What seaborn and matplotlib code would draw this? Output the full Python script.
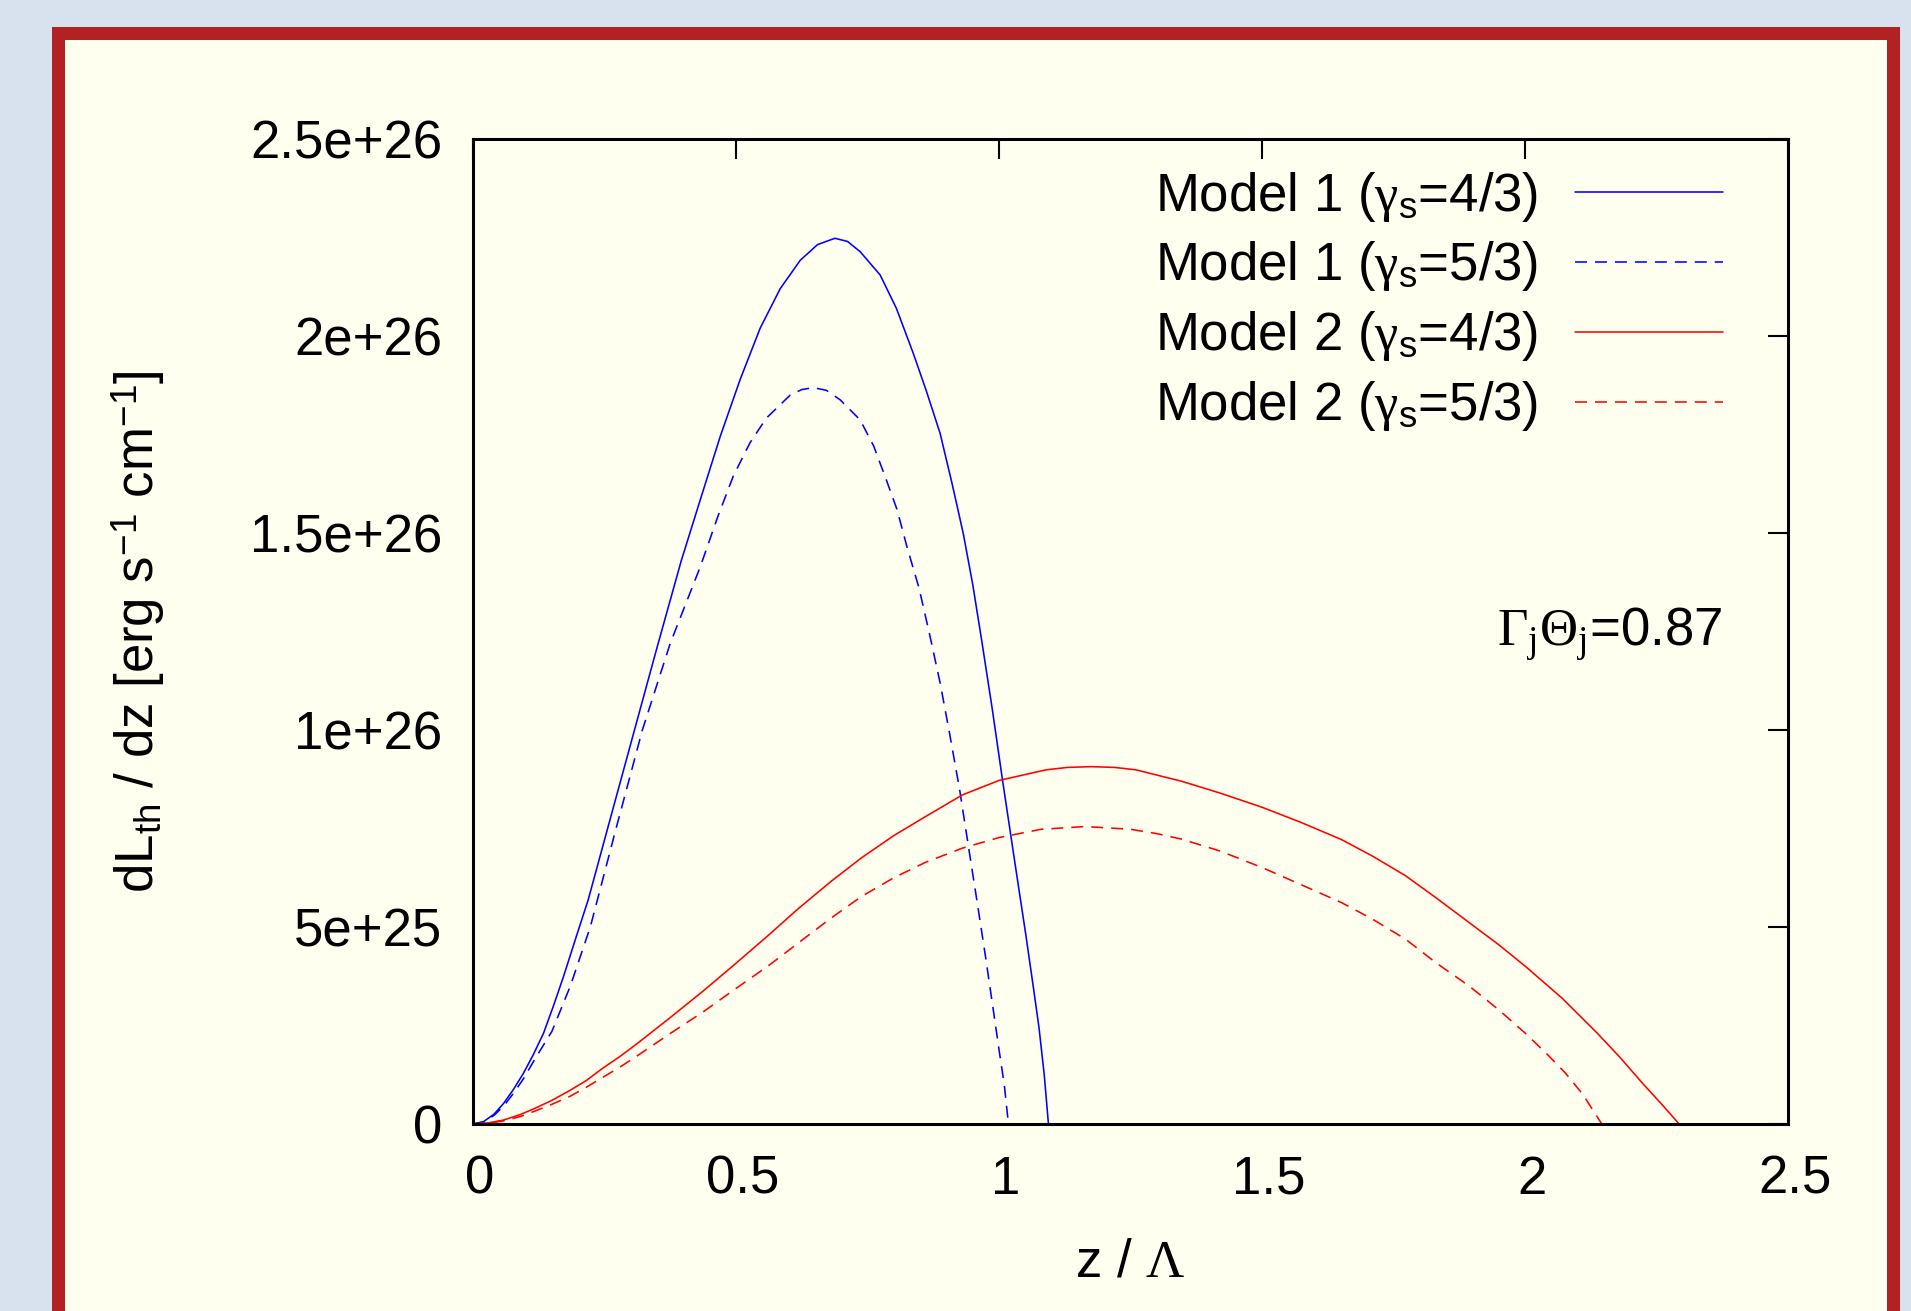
import matplotlib
matplotlib.use("Agg")
import matplotlib.pyplot as plt
from matplotlib.patches import Rectangle
from matplotlib.transforms import ScaledTranslation
import seaborn as sns
import pandas as pd

# ---- curves: dL_th/dz in units of 1e26 erg s^-1 cm^-1 versus z / Lambda ----
z_m1_43 = [0, 0.02, 0.04, 0.058, 0.077, 0.096, 0.115, 0.134, 0.153, 0.172, 0.195,
           0.219, 0.26, 0.307, 0.35, 0.396, 0.432, 0.47, 0.508, 0.546, 0.584, 0.622,
           0.655, 0.688, 0.712, 0.736, 0.774, 0.805, 0.837, 0.862, 0.888, 0.91,
           0.932, 0.95, 0.967, 0.987, 1.006, 1.03, 1.051, 1.065, 1.076, 1.086, 1.094]
L_m1_43 = [0, 0.006, 0.025, 0.052, 0.088, 0.129, 0.177, 0.230, 0.300, 0.374, 0.470,
           0.569, 0.770, 1.0, 1.21, 1.43, 1.584, 1.745, 1.890, 2.020, 2.120, 2.192,
           2.232, 2.248, 2.240, 2.214, 2.155, 2.070, 1.956, 1.860, 1.753, 1.630,
           1.499, 1.370, 1.228, 1.055, 0.879, 0.665, 0.480, 0.350, 0.245, 0.125, 0]

z_m1_53 = [0, 0.02, 0.04, 0.058, 0.077, 0.096, 0.12, 0.150, 0.185, 0.223, 0.27,
           0.322, 0.375, 0.432, 0.465, 0.495, 0.527, 0.558, 0.603, 0.625, 0.647,
           0.672, 0.698, 0.736, 0.762, 0.786, 0.806, 0.825, 0.848, 0.869, 0.888,
           0.905, 0.925, 0.943, 0.96, 0.975, 0.988, 1.0, 1.01, 1.018]
L_m1_53 = [0, 0.005, 0.022, 0.045, 0.078, 0.115, 0.170, 0.235, 0.350, 0.5, 0.74,
           1.0, 1.22, 1.414, 1.54, 1.645, 1.73, 1.792, 1.850, 1.864, 1.869,
           1.862, 1.838, 1.787, 1.72, 1.634, 1.56, 1.465, 1.36, 1.237, 1.12,
           0.999, 0.85, 0.695, 0.55, 0.419, 0.30, 0.189, 0.10, 0]

z_m2_43 = [0, 0.03, 0.058, 0.09, 0.118, 0.15, 0.184, 0.215, 0.245, 0.28, 0.311,
           0.373, 0.438, 0.5, 0.565, 0.617, 0.68, 0.738, 0.8, 0.86, 0.93, 1.0,
           1.09, 1.13, 1.176, 1.22, 1.26, 1.347, 1.42, 1.5, 1.575, 1.651, 1.71,
           1.773, 1.83, 1.894, 1.95, 2.0, 2.07, 2.137, 2.18, 2.223, 2.26, 2.293]
L_m2_43 = [0, 0.003, 0.010, 0.024, 0.040, 0.060, 0.085, 0.110, 0.140, 0.172, 0.203,
           0.268, 0.338, 0.408, 0.483, 0.545, 0.615, 0.675, 0.732, 0.780, 0.835,
           0.872, 0.899, 0.905, 0.907, 0.905, 0.899, 0.870, 0.840, 0.804, 0.765,
           0.722, 0.680, 0.630, 0.575, 0.511, 0.455, 0.401, 0.320, 0.231, 0.170,
           0.104, 0.050, 0]

z_m2_53 = [0, 0.03, 0.058, 0.09, 0.118, 0.15, 0.184, 0.215, 0.245, 0.28, 0.311,
           0.373, 0.438, 0.5, 0.565, 0.617, 0.68, 0.738, 0.8, 0.86, 0.93, 1.0,
           1.08, 1.164, 1.25, 1.3, 1.347, 1.42, 1.5, 1.575, 1.651, 1.71, 1.773,
           1.83, 1.894, 1.95, 2.0, 2.04, 2.077, 2.11, 2.146]
L_m2_53 = [0, 0.002, 0.008, 0.019, 0.033, 0.050, 0.070, 0.093, 0.117, 0.145, 0.172,
           0.228, 0.285, 0.344, 0.405, 0.458, 0.522, 0.577, 0.625, 0.664, 0.700,
           0.727, 0.748, 0.755, 0.748, 0.737, 0.723, 0.693, 0.651, 0.607, 0.562,
           0.520, 0.469, 0.410, 0.350, 0.290, 0.231, 0.180, 0.129, 0.075, 0]

series_labels = [r"Model 1 ($\gamma_{\mathrm{s}}$=4/3)",
                 r"Model 1 ($\gamma_{\mathrm{s}}$=5/3)",
                 r"Model 2 ($\gamma_{\mathrm{s}}$=4/3)",
                 r"Model 2 ($\gamma_{\mathrm{s}}$=5/3)"]
series_colors = ["#0000ff", "#0000ff", "#ff0000", "#ff0000"]
series_dashed = [False, True, False, True]

xticks = [0, 0.5, 1, 1.5, 2, 2.5]
xtick_labels = ["0", "0.5", "1", "1.5", "2", "2.5"]
yticks = [0, 5e25, 1e26, 1.5e26, 2e26, 2.5e26]
ytick_labels = ["0", "5e+25", "1e+26", "1.5e+26", "2e+26", "2.5e+26"]

# ---- style ----
sns.set_theme(style="white")
plt.rcParams["font.family"] = ["Liberation Sans", "DejaVu Sans"]
plt.rcParams["text.color"] = "black"
plt.rcParams["axes.labelcolor"] = "black"
plt.rcParams["mathtext.fontset"] = "custom"
plt.rcParams["mathtext.rm"] = "Liberation Sans"
plt.rcParams["mathtext.it"] = "Liberation Serif"
plt.rcParams["mathtext.sf"] = "Liberation Serif"
plt.rcParams["mathtext.bf"] = "Liberation Sans:bold"

FS = 38
W, H = 1911, 1311
fig = plt.figure(figsize=(W / 100, H / 100), dpi=100)
fig.patch.set_facecolor("#d8e2ee")

# red frame with ivory panel
fig.add_artist(Rectangle((52 / W, -0.05), 1848 / W, 1 - 27 / H + 0.05,
                         transform=fig.transFigure, facecolor="#b22222",
                         edgecolor="none", zorder=-2))
fig.add_artist(Rectangle((65 / W, -0.05), 1822 / W, 1 - 40 / H + 0.05,
                         transform=fig.transFigure, facecolor="#fffff0",
                         edgecolor="none", zorder=-1))

ax = fig.add_axes([473 / W, 1 - 1124 / H, (1788 - 473) / W, (1124 - 139) / H])
ax.set_facecolor("#fffff0")

curves = [(z_m1_43, L_m1_43), (z_m1_53, L_m1_53), (z_m2_43, L_m2_43), (z_m2_53, L_m2_53)]
for (zs, Ls), lab, col, dashed in zip(curves, series_labels, series_colors, series_dashed):
    df = pd.DataFrame({"z": zs, "L": [v * 1e26 for v in Ls]})
    sns.lineplot(data=df, x="z", y="L", ax=ax, color=col, linewidth=1.15,
                 linestyle=(0, (7.5, 5)) if dashed else "-", label=lab, legend=False)

ax.set_xlim(0, 2.5)
ax.set_ylim(0, 2.5e26)
ax.set_xticks(xticks)
ax.set_xticklabels(xtick_labels)
ax.set_yticks(yticks)
ax.set_yticklabels(ytick_labels)
ax.tick_params(axis="both", which="major", direction="in", length=14.4, width=1.5,
               top=True, right=True, labelsize=FS, colors="black")
ax.tick_params(axis="x", pad=22)
ax.tick_params(axis="y", pad=22)
for lbl in ax.get_xticklabels():
    lbl.set_transform(lbl.get_transform() + ScaledTranslation(0.07, 0, fig.dpi_scale_trans))
for sp in ax.spines.values():
    sp.set_linewidth(2.2)
    sp.set_color("black")
    sp.set_visible(True)

ax.set_xlabel(r"z / $\mathsf{\Lambda}$", fontsize=FS, labelpad=24)
ax.set_ylabel(r"dL$_{\mathrm{th}}$ / dz [erg s$^{\mathrm{-1}}$ cm$^{\mathrm{-1}}$]",
              fontsize=FS, labelpad=60)

leg = ax.legend(loc="upper right", bbox_to_anchor=(0.9506, 0.969), frameon=False,
                markerfirst=False, fontsize=FS, handlelength=2.8, handletextpad=0.7,
                labelspacing=0.30, borderpad=0, borderaxespad=0)

ax.text(0.9498, 0.4976, r"$\mathsf{\Gamma}_{j}\mathsf{\Theta}_{j}$=0.87",
        transform=ax.transAxes, ha="right", va="center", fontsize=FS)

fig.savefig("out.png", dpi=100, facecolor=fig.get_facecolor())
